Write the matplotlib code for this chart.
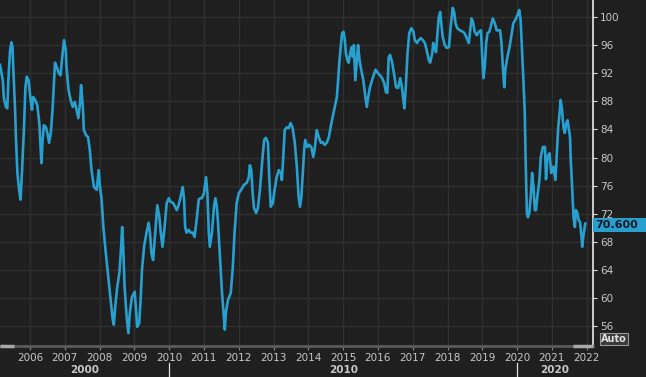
import matplotlib
matplotlib.use("Agg")
import matplotlib.pyplot as plt
from matplotlib.patches import Rectangle

# index level (decimal year, value)
years = [
    2005.14, 2005.22, 2005.25, 2005.31, 2005.35, 2005.38, 2005.43, 2005.47, 2005.50, 2005.52,
    2005.57, 2005.60, 2005.64, 2005.69, 2005.73, 2005.77, 2005.83, 2005.87, 2005.91, 2005.96,
    2006.02, 2006.06, 2006.09, 2006.15, 2006.21, 2006.27, 2006.33, 2006.36, 2006.40, 2006.46,
    2006.50, 2006.55, 2006.60, 2006.65, 2006.72, 2006.77, 2006.83, 2006.88, 2006.92, 2006.98,
    2007.03, 2007.05, 2007.11, 2007.17, 2007.23, 2007.29, 2007.34, 2007.39, 2007.44, 2007.47,
    2007.52, 2007.55, 2007.61, 2007.67, 2007.72, 2007.77, 2007.84, 2007.92, 2007.975, 2008.01,
    2008.06, 2008.11, 2008.18, 2008.25, 2008.32, 2008.38, 2008.41, 2008.45, 2008.51, 2008.57,
    2008.61, 2008.65, 2008.68, 2008.72, 2008.78, 2008.83, 2008.87, 2008.93, 2009.01, 2009.05,
    2009.08, 2009.14, 2009.18, 2009.22, 2009.28, 2009.35, 2009.41, 2009.45, 2009.49, 2009.54,
    2009.60, 2009.66, 2009.72, 2009.76, 2009.81, 2009.87, 2009.93, 2009.99, 2010.04, 2010.12,
    2010.22, 2010.27, 2010.33, 2010.39, 2010.43, 2010.46, 2010.50, 2010.56, 2010.62, 2010.68,
    2010.73, 2010.79, 2010.85, 2010.89, 2010.94, 2011.00, 2011.06, 2011.10, 2011.14, 2011.17,
    2011.23, 2011.29, 2011.33, 2011.37, 2011.40, 2011.46, 2011.52, 2011.58, 2011.60, 2011.63,
    2011.69, 2011.77, 2011.83, 2011.88, 2011.94, 2012.00, 2012.07, 2012.15, 2012.23, 2012.29,
    2012.32, 2012.36, 2012.40, 2012.44, 2012.50, 2012.55, 2012.61, 2012.67, 2012.73, 2012.78,
    2012.84, 2012.88, 2012.92, 2012.98, 2013.03, 2013.09, 2013.15, 2013.21, 2013.24, 2013.28,
    2013.32, 2013.38, 2013.44, 2013.49, 2013.55, 2013.61, 2013.67, 2013.72, 2013.76, 2013.80,
    2013.84, 2013.88, 2013.91, 2013.97, 2014.03, 2014.09, 2014.14, 2014.18, 2014.24, 2014.30,
    2014.36, 2014.41, 2014.47, 2014.53, 2014.59, 2014.64, 2014.70, 2014.76, 2014.82, 2014.85,
    2014.89, 2014.93, 2014.97, 2015.01, 2015.05, 2015.08, 2015.12, 2015.16, 2015.20, 2015.24,
    2015.28, 2015.31, 2015.35, 2015.39, 2015.43, 2015.47, 2015.52, 2015.58, 2015.64, 2015.68,
    2015.72, 2015.77, 2015.85, 2015.93, 2016.00, 2016.06, 2016.12, 2016.18, 2016.23, 2016.27,
    2016.31, 2016.35, 2016.41, 2016.46, 2016.52, 2016.58, 2016.64, 2016.69, 2016.73, 2016.76,
    2016.80, 2016.85, 2016.90, 2016.96, 2017.02, 2017.06, 2017.12, 2017.17, 2017.23, 2017.29,
    2017.35, 2017.40, 2017.46, 2017.50, 2017.56, 2017.59, 2017.63, 2017.67, 2017.71, 2017.75,
    2017.79, 2017.82, 2017.86, 2017.92, 2017.98, 2018.04, 2018.09, 2018.15, 2018.19, 2018.23,
    2018.28, 2018.36, 2018.44, 2018.49, 2018.55, 2018.61, 2018.65, 2018.69, 2018.73, 2018.78,
    2018.84, 2018.90, 2018.96, 2018.99, 2019.03, 2019.07, 2019.11, 2019.15, 2019.20, 2019.24,
    2019.30, 2019.36, 2019.41, 2019.51, 2019.55, 2019.59, 2019.63, 2019.66, 2019.72, 2019.78,
    2019.83, 2019.89, 2019.95, 2020.01, 2020.06, 2020.10, 2020.14, 2020.18, 2020.22, 2020.24,
    2020.28, 2020.31, 2020.35, 2020.39, 2020.43, 2020.47, 2020.51, 2020.54, 2020.58, 2020.64,
    2020.68, 2020.74, 2020.80, 2020.83, 2020.87, 2020.93, 2020.98, 2021.04, 2021.10, 2021.14,
    2021.18, 2021.22, 2021.25, 2021.29, 2021.33, 2021.37, 2021.41, 2021.45, 2021.49, 2021.52,
    2021.54, 2021.58, 2021.62, 2021.66, 2021.69, 2021.73, 2021.77, 2021.81, 2021.85, 2021.87,
    2021.90, 2021.94, 2021.96,
]
values = [
    93.2, 91.0, 88.5, 87.2, 87.0, 91.0, 95.3, 96.4, 95.7, 92.9,
    87.2, 82.5, 77.8, 75.4, 74.0, 77.8, 84.3, 90.0, 91.5, 91.0,
    88.2, 86.8, 88.6, 88.2, 87.5, 84.9, 79.2, 82.1, 84.6, 84.3,
    83.5, 82.1, 83.5, 86.8, 93.5, 92.9, 92.0, 91.7, 93.9, 96.7,
    95.3, 92.9, 89.6, 88.2, 87.2, 87.9, 86.8, 85.6, 87.8, 90.3,
    87.2, 83.9, 83.2, 82.9, 81.1, 78.2, 75.8, 75.4, 78.2, 76.0,
    74.0, 70.1, 66.4, 63.0, 59.7, 56.9, 56.2, 58.7, 61.6, 63.6,
    66.4, 70.1, 67.3, 61.6, 57.3, 55.0, 57.9, 60.1, 60.9, 58.3,
    55.9, 56.4, 59.7, 64.0, 67.3, 69.3, 70.7, 69.3, 66.4, 65.4,
    69.3, 73.2, 71.5, 69.3, 67.3, 70.1, 73.5, 74.2, 73.7, 73.5,
    72.5, 73.2, 74.4, 75.8, 74.0, 70.1, 69.3, 69.7, 69.3, 69.3,
    68.7, 71.1, 74.0, 74.2, 74.2, 74.9, 77.2, 74.9, 69.3, 67.3,
    69.3, 73.0, 74.2, 73.0, 71.1, 65.8, 60.7, 56.9, 55.5, 57.9,
    59.7, 60.7, 64.4, 69.3, 73.5, 74.9, 75.4, 76.1, 76.4, 77.2,
    78.9, 78.2, 74.9, 72.8, 72.1, 72.8, 75.4, 79.2, 82.5, 82.8,
    82.1, 76.8, 73.0, 73.5, 75.4, 77.2, 78.2, 77.8, 76.8, 80.1,
    83.9, 84.3, 84.2, 84.9, 84.2, 82.1, 78.7, 74.4, 73.0, 74.4,
    77.8, 81.1, 82.5, 81.5, 81.8, 81.4, 80.1, 81.1, 83.9, 82.9,
    82.1, 82.2, 81.8, 82.1, 82.9, 84.3, 85.8, 87.2, 88.6, 90.6,
    93.5, 95.7, 97.7, 97.9, 96.7, 94.8, 93.9, 93.5, 94.8, 95.7,
    94.3, 96.0, 91.0, 93.5, 96.0, 93.9, 92.5, 91.0, 88.6, 87.2,
    88.6, 90.0, 91.3, 92.5, 92.0, 91.7, 91.3, 90.6, 89.3, 89.2,
    94.3, 94.6, 93.5, 92.0, 90.0, 89.9, 91.3, 90.0, 88.2, 87.0,
    90.0, 94.8, 97.7, 98.4, 97.9, 96.7, 96.3, 96.7, 97.0, 96.7,
    96.3, 95.3, 93.9, 93.5, 94.8, 96.3, 95.7, 95.0, 97.7, 100.0,
    100.7, 99.1, 97.2, 96.0, 95.6, 95.7, 98.6, 101.3, 100.7, 99.1,
    98.4, 98.1, 97.9, 97.7, 97.0, 96.3, 98.1, 99.8, 99.3, 97.9,
    97.4, 97.9, 98.1, 95.3, 91.3, 92.9, 96.3, 97.7, 97.9, 98.6,
    99.8, 99.1, 98.1, 98.1, 96.3, 92.9, 90.0, 92.5, 94.3, 95.7,
    97.2, 99.1, 99.6, 100.3, 101.0, 99.6, 95.3, 91.0, 86.3, 80.6,
    72.1, 71.5, 72.1, 74.4, 77.8, 75.8, 72.5, 72.5, 74.4, 76.8,
    80.1, 81.5, 81.5, 76.9, 80.1, 80.6, 77.8, 78.7, 76.8, 80.6,
    84.3, 86.3, 88.2, 86.8, 84.3, 83.5, 84.9, 85.3, 83.9, 82.9,
    79.7, 75.8, 71.5, 70.1, 72.5, 72.1, 71.1, 70.7, 68.7, 67.3,
    68.7, 70.1, 70.6,
]

year_ticks = list(range(2006, 2023))
y_ticks = list(range(56, 101, 4))
decades = ["2000", "2010", "2020"]
last_value = 70.6

BG = "#1f1f20"
GRID = "#2f2f2d"
LINE = "#27a0d0"
TXT = "#c8c8c8"

x_min, x_max = 2005.14, 2022.18
y_min, y_max = 53.17, 102.42

fig = plt.figure(figsize=(6.46, 3.77), dpi=100, facecolor=BG)
ax = fig.add_axes([0, 31 / 377, 593 / 646, 346 / 377])
ax.set_facecolor(BG)

ax.plot(years, values, color=LINE, lw=1.9, solid_joinstyle="round", zorder=3)

ax.set_xlim(x_min, x_max)
ax.set_ylim(y_min, y_max)

ax.set_xticks(year_ticks)
ax.set_xticklabels([str(y) for y in year_ticks])
ax.set_yticks(y_ticks)
ax.yaxis.tick_right()
ax.grid(True, color=GRID, lw=1.0)
ax.set_axisbelow(True)

ax.tick_params(axis="x", colors=TXT, labelsize=7.5, length=3, width=0.8, pad=2)
ax.tick_params(axis="y", colors=TXT, labelsize=7.5, length=3, width=0.8, pad=2)
ax.tick_params(axis="x", color="#888888")
ax.tick_params(axis="y", color="#dddddd")

for side in ["top", "left"]:
    ax.spines[side].set_visible(False)
ax.spines["right"].set_color("#e8e8e8")
ax.spines["right"].set_linewidth(1.2)
ax.spines["bottom"].set_color("#5a5a5a")
ax.spines["bottom"].set_linewidth(2)

# lighter range segments on the bottom bar
ax.plot([x_min, 2005.55], [y_min, y_min], color="#a8a8a8", lw=2.5,
        clip_on=False, zorder=4, solid_capstyle="butt")
ax.plot([2021.6, x_max], [y_min, y_min], color="#a8a8a8", lw=2.5,
        clip_on=False, zorder=4, solid_capstyle="butt")

# decade labels and separators
trans = ax.get_xaxis_transform()
decade_pos = [(x_min + 2010) / 2, 2015, (2020 + x_max) / 2]
for lab, pos in zip(decades, decade_pos):
    ax.text(pos, -0.07, lab, transform=trans, ha="center", va="center",
            color=TXT, fontsize=7.5, fontweight="bold")
for sep in [2010, 2020]:
    ax.plot([sep, sep], [-0.05, -0.095], transform=trans, color="#e0e0e0",
            lw=0.9, clip_on=False)

# last value tag, spanning from the axis to the right edge
tag_y = ax.transData.transform((x_max, last_value))[1] / fig.bbox.height
tag_h = 14 / 377
fig.patches.append(Rectangle((593 / 646, tag_y - tag_h / 2 - 1 / 377), 53 / 646, tag_h,
                             transform=fig.transFigure, fc=LINE, ec="none", zorder=5))
fig.text(595 / 646, tag_y - 1 / 377, f"{last_value:.3f}", ha="left", va="center",
         color="#0c1a24", fontsize=8, fontweight="bold", zorder=6)

# Auto button
fig.text(614 / 646, 1 - 339 / 377, "Auto", ha="center", va="center",
         color="#e0e0e0", fontsize=7, fontweight="bold",
         bbox=dict(boxstyle="square,pad=0.15", fc="#3a3a3a", ec="#9a9a9a", lw=0.8))

fig.savefig("out.png", dpi=100, facecolor=BG)
